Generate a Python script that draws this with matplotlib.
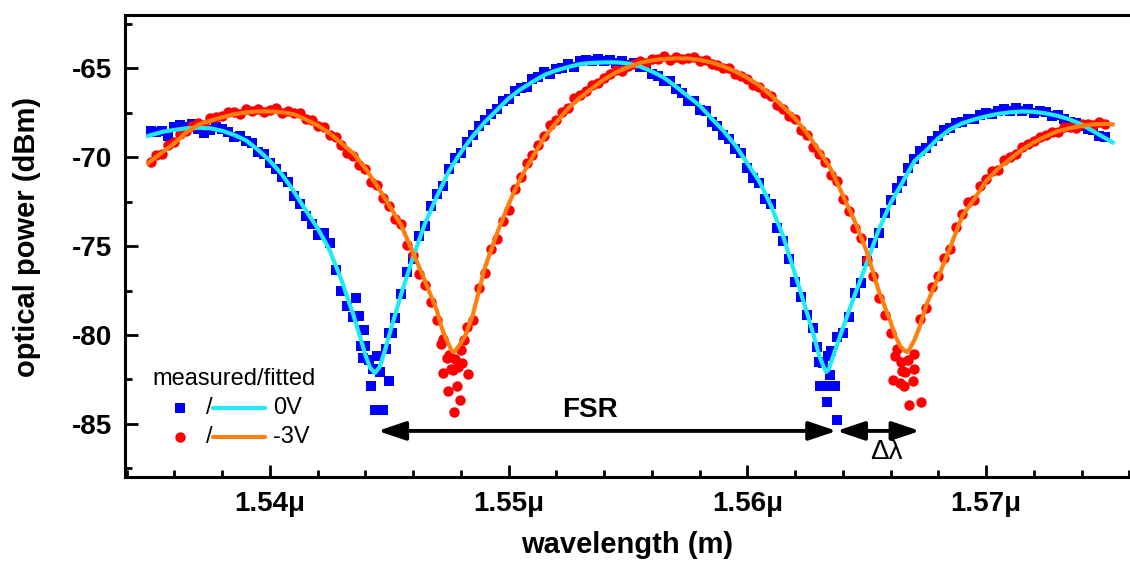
import matplotlib
matplotlib.use('Agg')
import matplotlib.pyplot as plt
import numpy as np
from matplotlib.lines import Line2D
from matplotlib.ticker import MultipleLocator, FuncFormatter

plt.rcParams['font.family'] = ['Liberation Sans', 'DejaVu Sans']
plt.rcParams['font.weight'] = 'bold'

# wavelength sweep of the measurement (um), 0.25 nm step
wl_meas = np.round(1.535 + 0.00025 * np.arange(161), 5)

# measured power at 0V (dBm)
p_0v = [-68.51, -68.56, -68.52, -68.81, -68.31, -68.21, -68.27, -68.15, -68.39, -68.65,
        -68.47, -68.28, -68.41, -68.57, -68.84, -68.78, -69.10, -69.20, -69.68, -69.83,
        -70.35, -70.67, -71.11, -71.37, -72.16, -72.64, -73.33, -73.78, -74.39, -74.28,
        -74.82, -76.33, -77.51, -78.38, -78.98, -78.95, -80.62, -82.90, -81.20, -84.25,
        -79.90, -79.05, -77.70, -76.46, -75.72, -74.41, -73.86, -72.75, -72.09, -71.59,
        -70.64, -70.05, -69.77, -69.12, -68.72, -68.22, -67.93, -67.54, -67.31, -66.82,
        -66.74, -66.28, -66.08, -66.07, -65.61, -65.51, -65.22, -65.34, -65.01, -64.96,
        -64.77, -64.93, -64.60, -64.52, -64.59, -64.47, -64.61, -64.51, -64.71, -64.59,
        -64.82, -64.70, -64.94, -64.93, -65.32, -65.44, -65.71, -65.71, -66.16, -66.38,
        -66.85, -66.86, -67.33, -67.39, -68.01, -68.26, -68.76, -68.97, -69.53, -69.78,
        -70.59, -71.14, -71.45, -72.35, -72.65, -74.00, -74.74, -75.70, -77.02, -77.86,
        -78.86, -79.60, -81.52, -82.85, -80.92, -80.10, -79.91, -78.98, -77.65, -77.05,
        -75.81, -74.83, -74.25, -73.14, -72.43, -71.75, -71.31, -70.60, -70.07, -69.65,
        -69.46, -69.07, -68.83, -68.48, -68.38, -68.06, -67.99, -67.83, -67.82, -67.63,
        -67.50, -67.58, -67.41, -67.26, -67.37, -67.24, -67.37, -67.28, -67.49, -67.38,
        -67.43, -67.70, -67.62, -67.82, -68.02, -68.06, -68.25, -68.39, -68.44, -68.83,
        -68.88]

# measured power at -3V (dBm)
p_3v = [-70.28, -69.87, -69.82, -69.31, -69.16, -68.70, -68.50, -68.23, -68.07, -68.16,
        -67.80, -67.75, -67.70, -67.46, -67.48, -67.57, -67.27, -67.39, -67.27, -67.47,
        -67.32, -67.24, -67.52, -67.37, -67.53, -67.52, -67.82, -67.88, -68.25, -68.32,
        -68.75, -68.88, -69.31, -69.74, -69.93, -70.45, -70.67, -71.42, -71.58, -72.31,
        -72.75, -73.46, -73.77, -74.95, -75.49, -76.58, -77.17, -78.16, -79.15, -80.25,
        -81.10, -81.37, -80.85, -79.55, -79.18, -77.35, -76.54, -75.18, -74.58, -73.58,
        -72.94, -71.81, -71.13, -70.34, -69.90, -69.29, -68.83, -68.20, -67.88, -67.44,
        -67.20, -66.69, -66.48, -66.27, -65.92, -65.82, -65.52, -65.32, -65.07, -65.13,
        -64.84, -64.76, -64.59, -64.67, -64.45, -64.46, -64.32, -64.50, -64.34, -64.49,
        -64.39, -64.38, -64.57, -64.54, -64.76, -64.82, -64.99, -64.98, -65.32, -65.45,
        -65.58, -65.94, -66.06, -66.39, -66.57, -67.04, -67.26, -67.68, -67.86, -68.48,
        -68.75, -69.43, -69.81, -70.24, -71.02, -71.35, -72.33, -73.01, -74.00, -74.55,
        -75.80, -76.70, -77.90, -78.90, -79.87, -80.80, -82.00, -81.40, -81.08, -79.10,
        -78.51, -77.32, -76.69, -75.65, -75.16, -73.93, -73.21, -72.54, -72.41, -71.61,
        -71.20, -70.80, -70.70, -70.18, -70.01, -69.80, -69.43, -69.27, -69.11, -68.84,
        -68.77, -68.58, -68.59, -68.30, -68.27, -68.35, -68.13, -68.14, -68.20, -68.03,
        -68.12]

# extra scattered samples in the resonance dips
wl_0v_dip = [1.54362, 1.54380, 1.54388, 1.54395, 1.54415, 1.54432, 1.54440, 1.54460, 1.54488, 1.54497,
             1.54510, 1.56290, 1.56304, 1.56318, 1.56332, 1.56338, 1.56346, 1.56353, 1.56367, 1.56374]
p_0v_dip = [-77.90, -80.60, -81.30, -79.70, -81.40, -81.90, -84.20, -82.10, -80.80, -82.60,
            -79.90, -80.70, -82.90, -81.60, -83.80, -81.20, -82.25, -82.90, -82.90, -84.78]
wl_3v_dip = [1.54715, 1.54725, 1.54740, 1.54746, 1.54760, 1.54767, 1.54771, 1.54782, 1.54790, 1.54796,
             1.54805, 1.54815, 1.54829, 1.56610, 1.56620, 1.56639, 1.56645, 1.56655, 1.56660, 1.56677,
             1.56694, 1.56700, 1.56726]
p_3v_dip = [-80.50, -82.13, -81.30, -83.13, -81.90, -81.97, -84.31, -82.87, -81.80, -83.65,
            -81.60, -80.30, -82.20, -82.53, -81.20, -82.70, -81.50, -82.90, -82.08, -83.93,
            -82.60, -81.90, -83.75]

# fitted curves
wl_fit_0v = [1.5349, 1.5350, 1.5355, 1.5360, 1.5365, 1.5370, 1.5375, 1.5380, 1.5385, 1.5390,
             1.5395, 1.5400, 1.5405, 1.5410, 1.5415, 1.5420, 1.5425, 1.5430, 1.5435, 1.5438,
             1.5440, 1.5442, 1.5444, 1.5446, 1.5448, 1.5450, 1.5455, 1.5460, 1.5465, 1.5470,
             1.5475, 1.5480, 1.5485, 1.5490, 1.5495, 1.5500, 1.5505, 1.5510, 1.5515, 1.5520,
             1.5525, 1.5530, 1.5535, 1.5540, 1.5545, 1.5550, 1.5555, 1.5560, 1.5565, 1.5570,
             1.5575, 1.5580, 1.5585, 1.5590, 1.5595, 1.5600, 1.5605, 1.5610, 1.5615, 1.5620,
             1.5625, 1.5628, 1.5630, 1.5632, 1.5633, 1.5634, 1.5636, 1.5638, 1.5640, 1.5645,
             1.5650, 1.5655, 1.5660, 1.5665, 1.5670, 1.5675, 1.5680, 1.5685, 1.5690, 1.5695,
             1.5700, 1.5705, 1.5710, 1.5715, 1.5720, 1.5725, 1.5730, 1.5735, 1.5740, 1.5745,
             1.5750, 1.5753]
fit_0v = [-68.80, -68.76, -68.57, -68.46, -68.37, -68.34, -68.37, -68.51, -68.74, -69.05,
          -69.58, -70.20, -70.96, -71.91, -72.98, -73.99, -75.22, -76.91, -78.88, -80.22,
          -81.12, -81.85, -82.14, -81.80, -80.96, -80.00, -77.70, -75.62, -73.71, -72.19,
          -70.79, -69.72, -68.82, -68.03, -67.36, -66.69, -66.18, -65.76, -65.37, -65.11,
          -64.92, -64.75, -64.69, -64.66, -64.66, -64.72, -64.89, -65.17, -65.51, -66.01,
          -66.55, -67.08, -67.81, -68.51, -69.33, -70.34, -71.35, -72.75, -74.44, -76.57,
          -78.76, -80.11, -81.12, -81.80, -82.08, -81.97, -81.18, -80.39, -79.61, -77.75,
          -75.96, -74.10, -72.58, -71.41, -70.22, -69.61, -68.93, -68.43, -68.09, -67.87,
          -67.70, -67.56, -67.47, -67.42, -67.44, -67.53, -67.67, -67.87, -68.15, -68.54,
          -68.93, -69.16]

wl_fit_3v = [1.5349, 1.5350, 1.5355, 1.5360, 1.5365, 1.5370, 1.5375, 1.5380, 1.5385, 1.5390,
             1.5395, 1.5400, 1.5405, 1.5410, 1.5415, 1.5420, 1.5425, 1.5430, 1.5435, 1.5440,
             1.5445, 1.5450, 1.5455, 1.5460, 1.5465, 1.5470, 1.5472, 1.5474, 1.5476, 1.5477,
             1.5478, 1.5480, 1.5482, 1.5485, 1.5490, 1.5495, 1.5500, 1.5505, 1.5510, 1.5515,
             1.5520, 1.5525, 1.5530, 1.5535, 1.5540, 1.5545, 1.5550, 1.5555, 1.5560, 1.5565,
             1.5570, 1.5575, 1.5580, 1.5585, 1.5590, 1.5595, 1.5600, 1.5605, 1.5610, 1.5615,
             1.5620, 1.5625, 1.5630, 1.5635, 1.5640, 1.5645, 1.5650, 1.5655, 1.5660, 1.5662,
             1.5664, 1.5666, 1.5667, 1.5668, 1.5670, 1.5672, 1.5675, 1.5680, 1.5685, 1.5690,
             1.5695, 1.5700, 1.5705, 1.5710, 1.5715, 1.5720, 1.5725, 1.5730, 1.5735, 1.5740,
             1.5745, 1.5750, 1.5753]
fit_3v = [-70.34, -70.23, -69.72, -69.21, -68.60, -68.17, -67.95, -67.75, -67.58, -67.47,
          -67.42, -67.42, -67.47, -67.58, -67.87, -68.20, -68.65, -69.21, -69.78, -70.62,
          -71.63, -72.70, -73.82, -75.39, -76.97, -78.65, -79.61, -80.28, -80.84, -80.96,
          -80.84, -80.45, -80.00, -78.88, -76.24, -74.33, -72.64, -71.18, -70.00, -68.88,
          -68.03, -67.25, -66.63, -66.12, -65.62, -65.22, -64.94, -64.69, -64.55, -64.47,
          -64.44, -64.44, -64.52, -64.66, -64.89, -65.17, -65.53, -65.96, -66.52, -67.16,
          -67.81, -68.65, -69.61, -70.67, -72.13, -73.60, -75.30, -77.50, -79.27, -80.06,
          -80.62, -80.90, -80.96, -80.79, -80.28, -79.61, -78.31, -76.74, -75.06, -73.31,
          -72.36, -71.35, -70.65, -70.11, -69.58, -69.16, -68.82, -68.54, -68.37, -68.23,
          -68.15, -68.12, -68.15]

# annotation positions (um, dBm)
fsr_start, fsr_end, dl_end, arrow_y = 1.54452, 1.56374, 1.56723, -85.4

fig = plt.figure(figsize=(11.3, 5.68), dpi=100)
ax = fig.add_axes([0.1106, 0.160, 0.8894, 0.8134])

ax.plot(np.concatenate([wl_meas, wl_0v_dip]), np.concatenate([p_0v, p_0v_dip]),
        's', color='#0000FF', ms=6.5, mew=0, zorder=2)
ax.plot(np.concatenate([wl_meas, wl_3v_dip]), np.concatenate([p_3v, p_3v_dip]),
        'o', color='#FF0000', ms=7.5, mew=0, zorder=2)
ax.plot(wl_fit_0v, fit_0v, '-', color='#1EEBF5', lw=3, zorder=3)
ax.plot(wl_fit_3v, fit_3v, '-', color='#FF7F0E', lw=3, zorder=3)

ax.set_xlim(1.53393, 1.57603)
ax.set_ylim(-88, -62)

ax.xaxis.set_major_locator(MultipleLocator(0.01))
ax.xaxis.set_minor_locator(MultipleLocator(0.002))
ax.yaxis.set_major_locator(MultipleLocator(5))
ax.yaxis.set_minor_locator(MultipleLocator(2.5))
ax.xaxis.set_major_formatter(FuncFormatter(lambda v, p: '%.2f\u03bc' % v))
ax.yaxis.set_major_formatter(FuncFormatter(lambda v, p: '%d' % v))

ax.tick_params(which='both', direction='in', width=2, top=False, right=False, labelsize=20)
ax.tick_params(which='major', length=9)
ax.tick_params(which='minor', length=5)
ax.tick_params(axis='y', which='major', pad=9)
ax.tick_params(axis='x', which='major', pad=10)

for side in ['left', 'bottom', 'top']:
    ax.spines[side].set_linewidth(2.2)
ax.spines['right'].set_visible(False)

ax.set_xlabel('wavelength (m)', fontsize=21, fontweight='bold')
ax.set_ylabel('optical power (dBm)', fontsize=21, fontweight='bold')
ax.xaxis.set_label_coords(0.5, -0.117)
ax.yaxis.set_label_coords(-0.084, 0.52)

# FSR and delta lambda arrows
astyle = dict(arrowstyle='<|-|>,head_length=0.8,head_width=0.27', color='black',
              lw=2.8, mutation_scale=21, shrinkA=0, shrinkB=0)
ax.annotate('', xy=(fsr_end, arrow_y), xytext=(fsr_start, arrow_y), arrowprops=astyle)
ax.annotate('', xy=(dl_end, arrow_y), xytext=(fsr_end, arrow_y), arrowprops=astyle)
ax.text(1.55341, -84.25, 'FSR', fontsize=20, fontweight='bold', ha='center', va='center')
ax.text(1.56582, -86.6, '\u0394\u03bb', fontsize=20, fontweight='normal', ha='center', va='center')

# legend drawn by hand
tr = ax.transAxes
ax.text(0.027, 0.212, 'measured/fitted', transform=tr, fontsize=17, fontweight='normal',
        va='center', ha='left')
rows = [(0.149, 's', '#0000FF', 6.5, '#1EEBF5', '0V'),
        (0.0866, 'o', '#FF0000', 7.5, '#FF7F0E', '-3V')]
for fy, mk, mc, ms, lc, lab in rows:
    ax.add_line(Line2D([0.0547], [fy], marker=mk, color=mc, ms=ms, mew=0, ls='none',
                       transform=tr, clip_on=False))
    ax.text(0.0836, fy, '/', transform=tr, fontsize=17, fontweight='normal', va='center', ha='center')
    ax.add_line(Line2D([0.0876, 0.1393], [fy, fy], color=lc, lw=3, transform=tr,
                       solid_capstyle='round'))
    ax.text(0.147, fy, lab, transform=tr, fontsize=17, fontweight='normal', va='center', ha='left')

fig.savefig('out.png', dpi=100)
